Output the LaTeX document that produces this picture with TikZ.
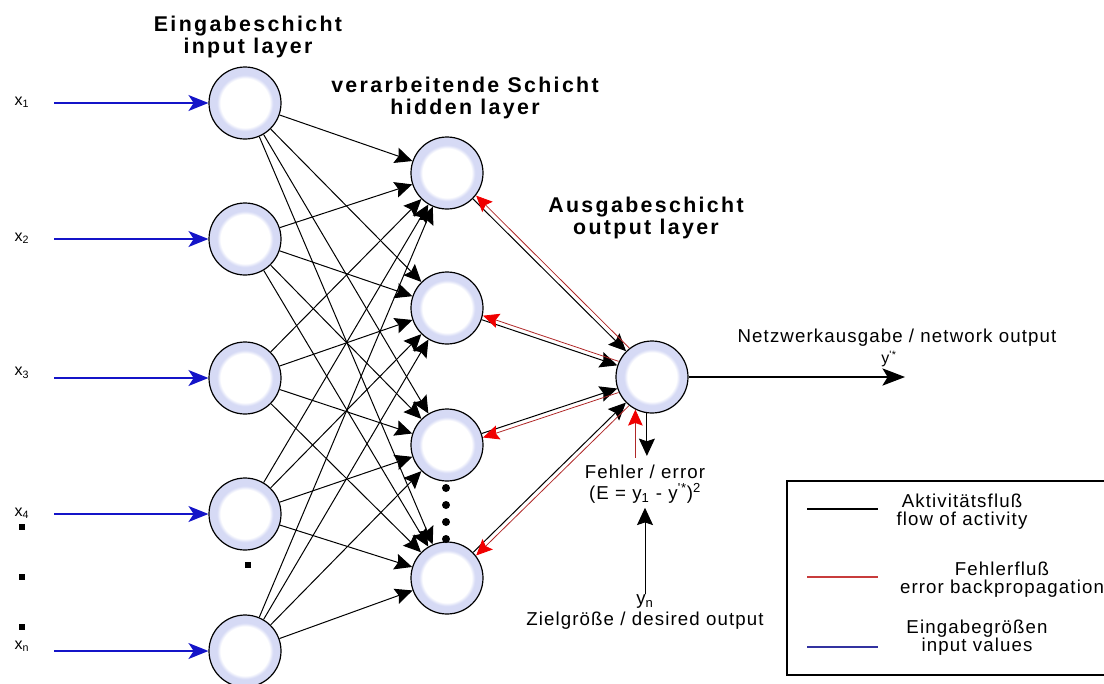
\documentclass[tikz,border=0pt]{standalone}
\usepackage{fontspec}
\setmainfont{Liberation Sans}
\newfontfamily\titlefont[LetterSpace=11]{Liberation Sans}
\newfontfamily\labelfont[LetterSpace=6]{Liberation Sans}
\usetikzlibrary{arrows.meta}
\definecolor{ring}{RGB}{214,218,245}
\definecolor{inblue}{RGB}{20,20,200}
\definecolor{errred}{RGB}{176,40,40}
\definecolor{tipred}{RGB}{240,0,0}
\definecolor{legred}{RGB}{200,60,60}
\definecolor{legblue}{RGB}{50,50,160}
% white core fading into a lavender rim
\pgfdeclareradialshading{neuronring}{\pgfpoint{0bp}{0bp}}{color(0bp)=(white); color(17bp)=(white); color(19.5bp)=(ring); color(25bp)=(ring); color(50bp)=(ring)}

\begin{document}
\begin{tikzpicture}[x=0.75pt,y=-0.75pt,
  neuron/.style={circle, draw, line width=0.9pt, minimum size=54pt, inner sep=0pt, shading=neuronring},
  act/.style={line width=0.75pt, -{Stealth[length=13pt,width=12pt,inset=2pt]}},
  outarrow/.style={line width=0.8pt, -{Stealth[length=17pt,width=13pt,inset=4pt]}},
  err/.style={errred, line width=0.6pt, -{Stealth[length=12pt,width=11pt,inset=2pt,color=tipred]}},
  inp/.style={inblue, line width=1.3pt, -{Stealth[length=15pt,width=12pt,inset=4pt]}},
  title/.style={font=\titlefont\bfseries\fontsize{16}{17}\selectfont, align=center},
  lbl/.style={font=\labelfont\fontsize{14}{15.5}\selectfont, align=center},
  legtext/.style={font=\labelfont\fontsize{14}{13.5}\selectfont, align=center},
  tiny/.style={font=\labelfont\fontsize{12}{14}\selectfont},
  dotsq/.style={fill, minimum size=4.5pt, inner sep=0pt},
  dotc/.style={circle, fill, minimum size=6pt, inner sep=0pt},
  legline/.style={line width=1.2pt},
]
\useasboundingbox (0,0) rectangle (1104,683);

% layer titles
\node[title] (tin)  at (248,37)  {Eingabeschicht\\input layer};
\node[title] (thid) at (465,98)  {verarbeitende Schicht\\hidden layer};
\node[title] (tout) at (646,218) {Ausgabeschicht\\output layer};

% input layer
\node[neuron] (i1) at (245,103) {};
\node[neuron] (i2) at (245,239) {};
\node[neuron] (i3) at (245,378) {};
\node[neuron] (i4) at (245,514) {};
\node[neuron] (i5) at (245,651) {};

% hidden layer
\node[neuron] (h1) at (447,173) {};
\node[neuron] (h2) at (447,308) {};
\node[neuron] (h3) at (447,445) {};
\node[neuron] (h4) at (447,578) {};

% output neuron
\node[neuron] (out) at (652,377) {};

% input values
\node[tiny] (lx1) at (22,102) {x\textsubscript{1}};
\node[tiny] (lx2) at (22,238) {x\textsubscript{2}};
\node[tiny] (lx3) at (22,373) {x\textsubscript{3}};
\node[tiny] (lx4) at (22,513) {x\textsubscript{4}};
\node[tiny] (lx5) at (22,646) {x\textsubscript{n}};
\foreach \k/\yy in {1/103,2/239,3/378,4/514,5/651}{
  \coordinate (s\k) at (54,\yy);
  \draw[inp] (s\k) -- (i\k);
}

% ellipsis marks
\node[dotsq] (q1) at (22,527) {};
\node[dotsq] (q2) at (22,577) {};
\node[dotsq] (q3) at (22,627) {};
\node[dotsq] (q4) at (248,565) {};
\node[dotc] (c1) at (446,488) {};
\node[dotc] (c2) at (446,505) {};
\node[dotc] (c3) at (446,522) {};
\node[dotc] (c4) at (446,539) {};

% activity flow, input -> hidden
\foreach \i in {1,...,5}
  \foreach \j in {1,...,4}
    \draw[act] (i\i) -- (h\j);

% activity flow hidden -> output, error flow back alongside
\draw[act] (h1) -- (out);
\draw[act] (h2) -- (out);
\draw[act] (h3) -- (out);
\draw[act] (h4) -- (out);
\draw[err, transform canvas={shift={(2.4pt,2.4pt)}}] (out) -- (h1);
\draw[err, transform canvas={shift={(1pt,3pt)}}] (out) -- (h2);
\draw[err, transform canvas={shift={(1pt,-3pt)}}] (out) -- (h3);
\draw[err, transform canvas={shift={(2.3pt,-2.3pt)}}] (out) -- (h4);

% network output
\coordinate (yend) at (905,377);
\draw[outarrow] (out) -- (yend);
\node[lbl] (netout) at (897,338) {Netzwerkausgabe / network output};
\node[tiny] (ystar) at (889,359) {y\textsuperscript{'*}};

% error computation
\node[lbl] (errlbl) at (645,484) {Fehler / error\\(E = y\textsubscript{1} - y\textsuperscript{'*})\textsuperscript{2}};
\draw[err] ([yshift=-36pt]out.-117) -- (out.-117);
\draw[act] (out.-98) -- ([yshift=-32pt]out.-98);
\node[lbl] (target) at (645,612) {y\textsubscript{n}\\Zielgröße / desired output};
\coordinate (tfoot) at (645,594);
\draw[act] (tfoot) -- (errlbl.south);

% legend
\draw[line width=1pt] (787,481) rectangle (1120,675);
\coordinate (la1) at (807,509); \coordinate (la2) at (878,509);
\coordinate (lb1) at (807,577); \coordinate (lb2) at (878,577);
\coordinate (lc1) at (807,647); \coordinate (lc2) at (878,647);
\draw[legline] (la1) -- (la2);
\draw[legline, legred] (lb1) -- (lb2);
\draw[legline, legblue] (lc1) -- (lc2);
\node[legtext] (leg1) at (962,512) {Aktivitätsfluß\\flow of activity};
\node[legtext] (leg2) at (1002,580) {Fehlerfluß\\error backpropagation};
\node[legtext] (leg3) at (977,638) {Eingabegrößen\\input values};
\end{tikzpicture}
\end{document}
